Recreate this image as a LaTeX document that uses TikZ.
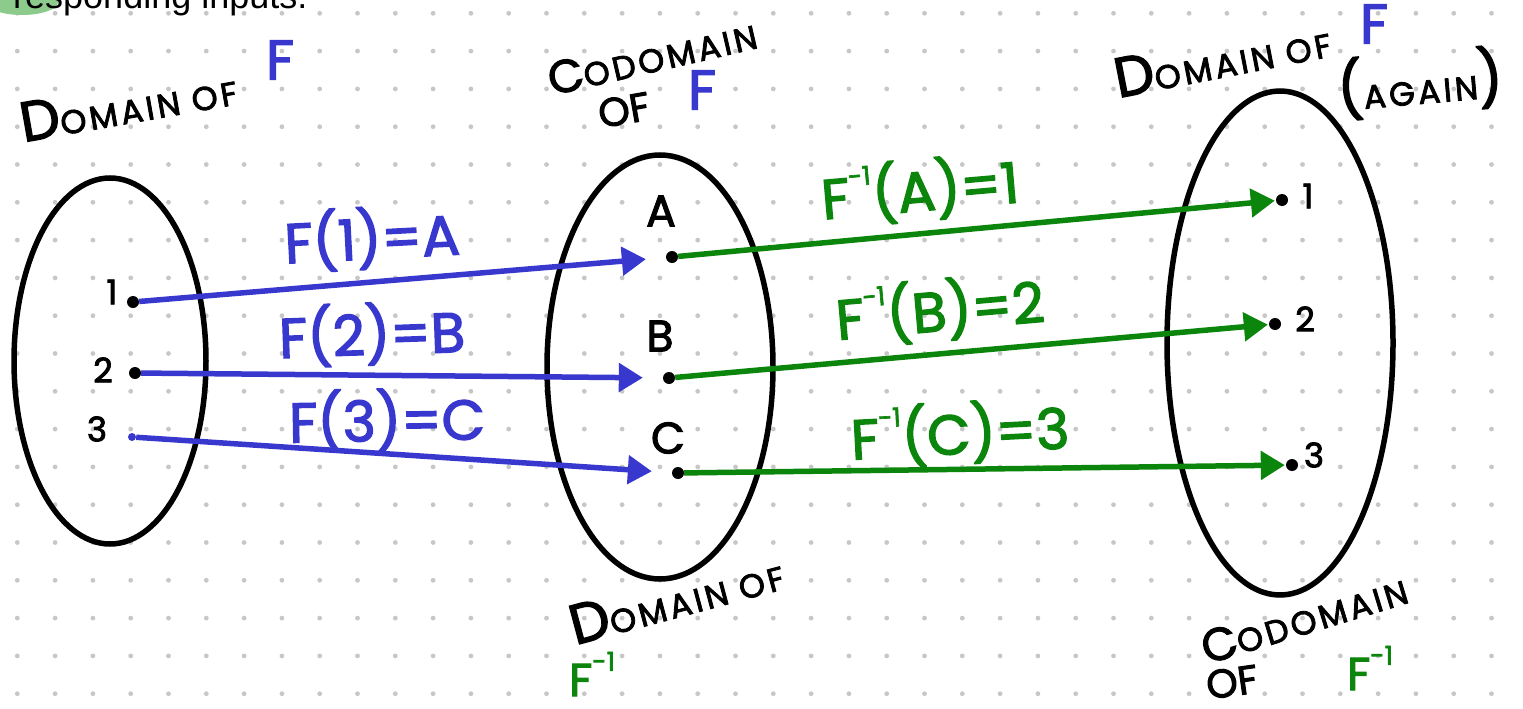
\documentclass[tikz,border=0pt]{standalone}
\usepackage{fontspec}
\setmainfont{Liberation Sans}
\newfontfamily\handfont[FakeBold=2.5]{Poppins}
\usetikzlibrary{arrows.meta,positioning}
\definecolor{fblue}{HTML}{3838CF}
\definecolor{fgreen}{HTML}{0B850B}
\definecolor{hilite}{HTML}{8CCB8C}
\newcommand\smc[1]{{\fontsize{33}{35}\selectfont\addfontfeatures{LetterSpace=10}#1}}
\newcommand\inv{\raisebox{0.55em}{\fontsize{26}{26}\selectfont -1}}
\tikzset{
  >={Triangle[length=24pt,width=28pt]},
  gdot/.style={fill=black!22},
  setoval/.style={draw=black, line width=5.5pt},
  elem/.style={circle, fill=black, inner sep=0pt, minimum size=12pt},
  elbl/.style={font=\handfont\fontsize{44}{46}\selectfont, inner sep=0pt},
  nlbl/.style={font=\handfont\fontsize{34}{36}\selectfont, inner sep=0pt},
  fmap/.style={->, fblue, line width=5.5pt},
  finv/.style={->, fgreen, line width=5.5pt},
  flbl/.style={fblue, font=\handfont\fontsize{56}{58}\selectfont, inner sep=0pt},
  glbl/.style={fgreen, font=\handfont\fontsize{56}{58}\selectfont, inner sep=0pt},
  ttl/.style={font=\handfont\fontsize{56}{58}\selectfont, inner sep=0pt},
  cttl/.style={font=\handfont\fontsize{46}{48}\selectfont, inner sep=0pt},
}
\begin{document}
\begin{tikzpicture}[x=1pt,y=-1pt]

  \useasboundingbox (0,0) rectangle (1523,709);
  \clip (0,0) rectangle (1523,709);

  % ---- dotted paper ----
  \foreach \i in {0,...,39}
    \foreach \j in {0,...,18}
      \fill[gdot] (17.3+37.8*\i,13.3+37.8*\j) circle (2.4);

  % ---- cut-off line above ----
  \fill[hilite] (22,2) ellipse [x radius=36, y radius=13];
  \node[anchor=base west, inner sep=0pt, font=\fontsize{36}{40}\selectfont]
    (cut) at (13,9) {responding inputs.};

  % ---- the three sets ----
  \draw[setoval] (110,361) ellipse [x radius=96, y radius=183];
  \draw[setoval] (660,367) ellipse [x radius=113, y radius=212];
  \draw[setoval] (1280,343) ellipse [x radius=113, y radius=252];

  % ---- elements ----
  \node[elem] (d1) at (133,302) {};
  \node[elem] (d2) at (135,373) {};
  \node[elem, fill=fblue, minimum size=8pt] (d3) at (132,437) {};
  \node[elem] (dA) at (672,257) {};
  \node[elem] (dB) at (669,378) {};
  \node[elem] (dC) at (678,473) {};
  \node[elem] (r1) at (1282,200) {};
  \node[elem] (r2) at (1275,324) {};
  \node[elem] (r3) at (1292,465) {};

  \node[nlbl] (l1) at (112,292) {1};
  \node[nlbl] (l2) at (103,370) {2};
  \node[nlbl] (l3) at (97,429) {3};
  \node[elbl] (lA) at (661,211) {A};
  \node[elbl] (lB) at (660,336) {B};
  \node[elbl] (lC) at (668,438) {C};
  \node[nlbl] (m1) at (1308,196) {1};
  \node[nlbl] (m2) at (1305,319) {2};
  \node[nlbl] (m3) at (1314,455) {3};

  % ---- f ----
  \draw[fmap, shorten >=20pt] (d1) -- (dA);
  \draw[fmap, shorten >=20pt] (d2) -- (dB);
  \draw[fmap, shorten >=20pt] (d3) -- (dC);
  \node[flbl, rotate=3] (f1) at (372,238) {F(1)=A};
  \node[flbl, rotate=2] (f2) at (372,334) {F(2)=B};
  \node[flbl, rotate=1] (f3) at (387,420) {F(3)=C};

  % ---- f inverse ----
  \draw[finv, shorten >=1pt] (dA) -- (r1);
  \draw[finv, shorten >=1pt] (dB) -- (r2);
  \draw[finv, shorten >=1pt] (dC) -- (r3);
  \node[glbl, rotate=5] (g1) at (920,190) {F\inv(A)=1};
  \node[glbl, rotate=5] (g2) at (940,310) {F\inv(B)=2};
  \node[glbl, rotate=3] (g3) at (960,433) {F\inv(C)=3};

  % ---- titles ----
  \node[ttl, rotate=10] (t1) at (128,104) {D\smc{OMAIN OF}};
  \node[ttl, fblue] (t1f) at (280,60) {F};

  \node[cttl, rotate=13] (t2) at (652,56) {C\smc{ODOMAIN}};
  \node[ttl, rotate=10] (t2o) at (624,110) {\fontsize{40}{42}\selectfont OF};
  \node[ttl, fblue] (t2f) at (702,90) {F};

  \node[ttl, rotate=11] (t3) at (1222,58) {D\smc{OMAIN OF}};
  \node[ttl, fblue] (t3f) at (1374,24) {F};
  \node[ttl, rotate=5] (t3a) at (1420,83) {(\smc{AGAIN})};

  \node[ttl, rotate=15] (b1) at (676,598) {D\smc{OMAIN OF}};
  \node[ttl, fgreen] (b1f) at (592,674) {\fontsize{46}{48}\selectfont F\inv};

  \node[cttl, rotate=17] (b2) at (1304,618) {C\smc{ODOMAIN}};
  \node[ttl, rotate=8] (b2o) at (1232,682) {\fontsize{40}{42}\selectfont OF};
  \node[ttl, fgreen] (b2f) at (1370,668) {\fontsize{46}{48}\selectfont F\inv};

\end{tikzpicture}
\end{document}
